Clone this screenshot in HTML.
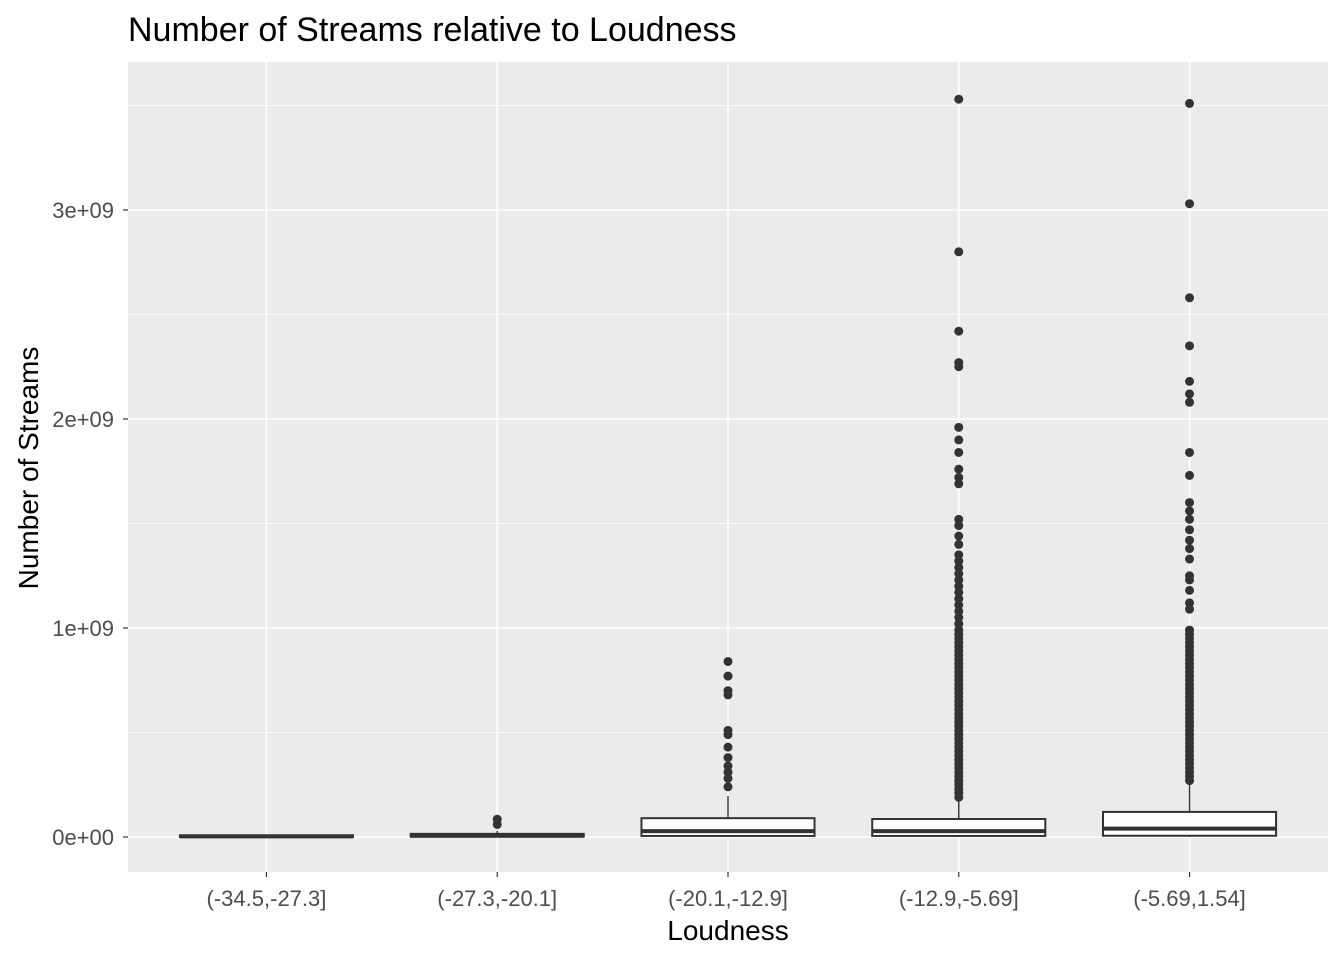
<!DOCTYPE html>
<html><head><meta charset="utf-8"><style>
body{margin:0;background:#fff;}
svg{display:block;font-family:"Liberation Sans",Arial,sans-serif;}
</style></head><body>
<svg id="chart" width="1344" height="960" viewBox="0 0 1344 960">
<text x="128" y="41" font-size="34" fill="#000">Number of Streams relative to Loudness</text>
<rect x="128" y="62" width="1200" height="810" fill="#ebebeb"/>
<g id="grid"></g><g id="marks"></g><g id="axes"></g>
<text x="728" y="940" font-size="28" text-anchor="middle" fill="#000">Loudness</text>
<text transform="translate(38,468) rotate(-90)" font-size="28" text-anchor="middle" fill="#000">Number of Streams</text>
</svg>
<script>
const categories=["(-34.5,-27.3]","(-27.3,-20.1]","(-20.1,-12.9]","(-12.9,-5.69]","(-5.69,1.54]"];
const q1=[0.0005,0.002,0.005,0.005,0.006];
const medians=[0.003,0.006,0.028,0.028,0.040];
const q3=[0.008,0.015,0.090,0.086,0.120];
const whiskerLow=[0,0,0,0,0];
const whiskerHigh=[0.010,0.030,0.196,0.180,0.260];
const outliers=[
[],
[0.06,0.085],
[0.24,0.28,0.31,0.34,0.38,0.43,0.49,0.51,0.68,0.70,0.77,0.84],
[0.19,0.21,0.23,0.25,0.27,0.29,0.31,0.33,0.35,0.37,0.39,0.41,0.43,0.45,0.47,0.49,0.51,0.53,0.55,0.57,0.59,0.61,0.63,0.65,0.67,0.69,0.71,0.73,0.75,0.77,0.79,0.81,0.83,0.85,0.87,0.89,0.91,0.93,0.95,0.97,0.99,1.02,1.05,1.08,1.11,1.14,1.17,1.20,1.23,1.26,1.29,1.32,1.35,1.40,1.44,1.49,1.52,1.69,1.72,1.76,1.84,1.90,1.96,2.25,2.27,2.42,2.80,3.53],
[0.27,0.29,0.31,0.33,0.35,0.37,0.39,0.41,0.43,0.45,0.47,0.49,0.51,0.53,0.55,0.57,0.59,0.61,0.63,0.65,0.67,0.69,0.71,0.73,0.75,0.77,0.79,0.81,0.83,0.85,0.87,0.89,0.91,0.93,0.95,0.97,0.99,1.09,1.12,1.18,1.23,1.25,1.33,1.38,1.42,1.47,1.52,1.56,1.60,1.73,1.84,2.08,2.12,2.18,2.35,2.58,3.03,3.51]
];
const yTicks=[0,1,2,3];
const yTickLabels=["0e+00","1e+09","2e+09","3e+09"];
const yMinor=[0.5,1.5,2.5,3.5];

const NS="http://www.w3.org/2000/svg";
const X0=128,X1=1328,Y0=62,Y1=872;
const yScale=v=>837-v*209;
const unit=(X1-X0)/(categories.length+0.2);
const xScale=i=>X0+unit*(i+0.6);
const bw=unit*0.75;
function mk(t,a,p){const e=document.createElementNS(NS,t);for(const k in a)e.setAttribute(k,a[k]);p.appendChild(e);return e;}
const grid=document.getElementById('grid'),marks=document.getElementById('marks'),axes=document.getElementById('axes');
yMinor.forEach(v=>{const l=mk('line',{x1:X0,x2:X1,y1:yScale(v),y2:yScale(v),stroke:'#fff','stroke-width':0.8},grid);

});
yTicks.forEach((v,i)=>{const l=mk('line',{x1:X0,x2:X1,y1:yScale(v),y2:yScale(v),stroke:'#fff','stroke-width':1.6},grid);


const tk=mk('line',{x1:X0-5,x2:X0,y1:yScale(v),y2:yScale(v),stroke:'#333','stroke-width':1.2},axes);


const t=mk('text',{x:X0-14,y:yScale(v)+8,'font-size':22,'text-anchor':'end',fill:'#4d4d4d'},axes);t.textContent=yTickLabels[i];

});
categories.forEach((c,i)=>{const x=xScale(i);
const g=mk('line',{x1:x,x2:x,y1:Y0,y2:Y1,stroke:'#fff','stroke-width':1.6},grid);


const tk=mk('line',{x1:x,x2:x,y1:Y1,y2:Y1+5,stroke:'#333','stroke-width':1.2},axes);


const t=mk('text',{x:x,y:906,'font-size':22,'text-anchor':'middle',fill:'#4d4d4d'},axes);t.textContent=c;


const g2=mk('g',{},marks);


mk('line',{x1:x,x2:x,y1:yScale(q3[i]),y2:yScale(whiskerHigh[i]),stroke:'#333','stroke-width':1.4},g2);
mk('line',{x1:x,x2:x,y1:yScale(q1[i]),y2:yScale(whiskerLow[i]),stroke:'#333','stroke-width':1.4},g2);
const top=yScale(q3[i]),bot=yScale(q1[i]);
mk('rect',{x:x-bw/2,y:top,width:bw,height:Math.max(bot-top,1),fill:'#fff',stroke:'#333','stroke-width':2},g2);
mk('line',{x1:x-bw/2,x2:x+bw/2,y1:yScale(medians[i]),y2:yScale(medians[i]),stroke:'#333','stroke-width':4},g2);
outliers[i].forEach(v=>{const p=mk('circle',{cx:x,cy:yScale(v),r:4.5,fill:'#333'},g2);

});
});
</script>
</body></html>
